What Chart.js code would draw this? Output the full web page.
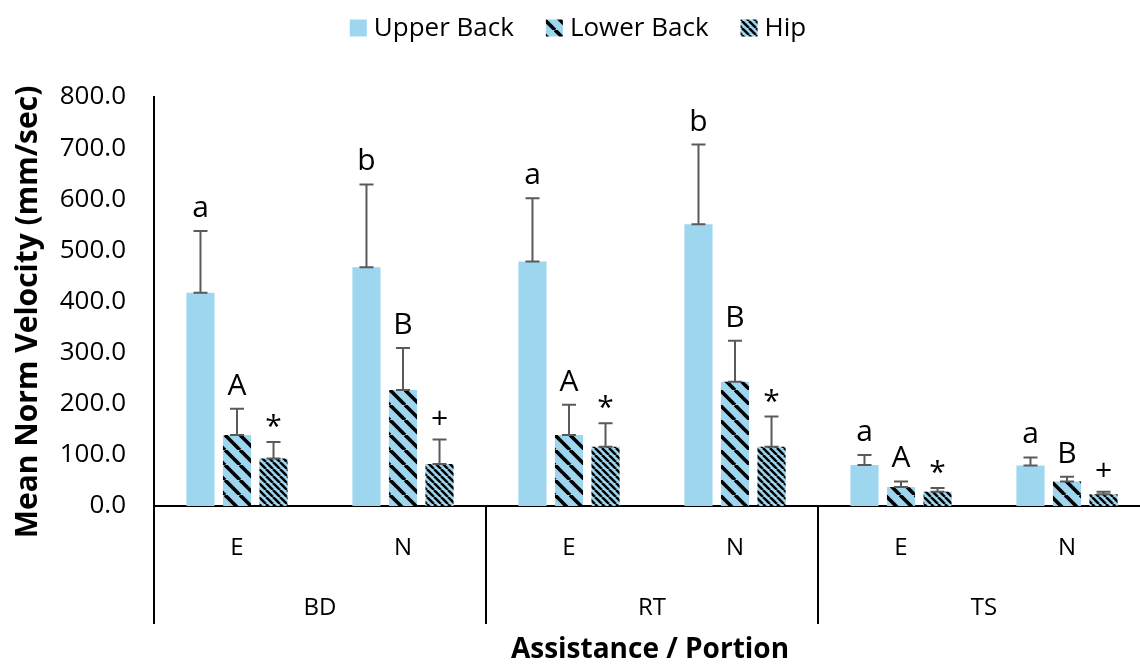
<!DOCTYPE html>
<html>
<head>
<meta charset="utf-8">
<script src="https://cdn.jsdelivr.net/npm/chart.js@4/dist/chart.umd.min.js"></script>
<style>
  html, body { margin: 0; padding: 0; background: #fff; overflow: hidden; }
  #wrap { width: 1140px; height: 666px; overflow: hidden; }
</style>
</head>
<body>
<div id="wrap"><canvas id="chart" width="1150" height="666"></canvas></div>
<script>
// Mean norm velocity by assistance device and portion of the movement
const groups = ['BD', 'RT', 'TS'];
const portions = ['E', 'N', 'E', 'N', 'E', 'N'];
const seriesNames = ['Upper Back', 'Lower Back', 'Hip'];

const upperBack = [417, 467, 478, 551, 80, 79];
const lowerBack = [139, 227, 139, 243, 37, 48];
const hip = [93, 82, 116, 116, 28, 23];

// standard deviations (drawn upward only)
const upperBackSD = [121, 162, 124, 156, 20, 16];
const lowerBackSD = [51, 82, 59, 80, 11, 9];
const hipSD = [32, 48, 46, 59, 7, 5];

// significance letters shown above each bar
const upperBackMarks = ['a', 'b', 'a', 'b', 'a', 'a'];
const lowerBackMarks = ['A', 'B', 'A', 'B', 'A', 'B'];
const hipMarks = ['*', '+', '*', '*', '*', '+'];

const yTicks = [0, 100, 200, 300, 400, 500, 600, 700, 800];

const BLUE = '#9dd6ee';
const FONT = "'Open Sans', sans-serif";

function stripePattern(period, lineWidth) {
  const c = document.createElement('canvas');
  c.width = period; c.height = period;
  const g = c.getContext('2d');
  g.fillStyle = BLUE;
  g.fillRect(0, 0, period, period);
  g.strokeStyle = '#000';
  g.lineWidth = lineWidth;
  for (const k of [-period, 0, period]) {
    g.beginPath();
    g.moveTo(k, 0);
    g.lineTo(k + period, period);
    g.stroke();
  }
  return g.createPattern(c, 'repeat');
}

const fills = [BLUE, stripePattern(15, 3.6), stripePattern(7, 2.5)];
const values = [upperBack, lowerBack, hip];
const sds = [upperBackSD, lowerBackSD, hipSD];
const marks = [upperBackMarks, lowerBackMarks, hipMarks];

const decorations = {
  id: 'decorations',
  afterDatasetsDraw(chart) {
    const ctx = chart.ctx;
    const y = chart.scales.y;
    ctx.save();
    chart.data.datasets.forEach((ds, i) => {
      const meta = chart.getDatasetMeta(i);
      meta.data.forEach((bar, j) => {
        const top = y.getPixelForValue(values[i][j] + sds[i][j]);
        const base = bar.y;
        ctx.strokeStyle = '#5a5a5a';
        ctx.lineWidth = 2;
        ctx.beginPath();
        ctx.moveTo(bar.x, base);
        ctx.lineTo(bar.x, top);
        ctx.moveTo(bar.x - 7, top);
        ctx.lineTo(bar.x + 7, top);
        ctx.moveTo(bar.x - 7, base);
        ctx.lineTo(bar.x + 7, base);
        ctx.stroke();

        const m = marks[i][j];
        ctx.fillStyle = '#000';
        ctx.font = `30px ${FONT}`;
        ctx.textAlign = 'center';
        ctx.textBaseline = 'alphabetic';
        const shift = (m === '*') ? 8 : (m === '+' ? 2 : 0);
        ctx.fillText(m, bar.x, top - 14 + shift);
      });
    });
    ctx.restore();
  },
  afterDraw(chart) {
    const ctx = chart.ctx;
    const x = chart.scales.x;
    const area = chart.chartArea;
    ctx.save();
    // group separators below the axis
    ctx.strokeStyle = '#000';
    ctx.lineWidth = 2;
    const per = portions.length / groups.length;
    for (let g = 0; g < groups.length; g++) {
      const px = Math.round(x.getPixelForValue(g * per - 0.5));
      ctx.beginPath();
      ctx.moveTo(px, area.bottom);
      ctx.lineTo(px, 624);
      ctx.stroke();
    }

    // axis titles
    ctx.fillStyle = '#000';
    ctx.font = `bold 28px ${FONT}`;
    ctx.textAlign = 'center';
    ctx.textBaseline = 'middle';
    ctx.fillText('Assistance / Portion', 650, 650);
    ctx.save();
    ctx.translate(28, 312);
    ctx.rotate(-Math.PI / 2);
    ctx.font = `bold 30px ${FONT}`;
    ctx.fillText('Mean Norm Velocity (mm/sec)', 0, 0);
    ctx.restore();

    // legend
    ctx.font = `26px ${FONT}`;
    ctx.textBaseline = 'middle';
    ctx.textAlign = 'left';
    const box = 17, gapIn = 7, gapOut = 32;
    const widths = seriesNames.map(n => box + gapIn + ctx.measureText(n).width);
    const total = widths.reduce((a, b) => a + b, 0) + gapOut * (seriesNames.length - 1);
    let lx = 578 - total / 2;
    const ly = 28;
    seriesNames.forEach((n, i) => {
      ctx.fillStyle = fills[i];
      ctx.fillRect(lx, ly - box / 2, box, box);
      ctx.fillStyle = '#000';
      ctx.fillText(n, lx + box + gapIn, ly + 1);
      lx += widths[i] + gapOut;
    });
    ctx.restore();
  }
};

new Chart(document.getElementById('chart'), {
  type: 'bar',
  data: {
    labels: portions,
    datasets: seriesNames.map((name, i) => ({
      label: name,
      data: values[i],
      backgroundColor: fills[i],
      borderWidth: 0,
      categoryPercentage: 0.66,
      barPercentage: 0.77,
      xAxisID: 'x',
      yAxisID: 'y'
    }))
  },
  options: {
    responsive: false,
    devicePixelRatio: 1,
    animation: false,
    layout: { padding: { top: 97, right: 0, left: 0, bottom: 0 } },
    plugins: { legend: { display: false }, tooltip: { enabled: false } },
    scales: {
      x: {
        type: 'category',
        position: 'bottom',
        offset: true,
        grid: { display: false },
        border: { display: true, color: '#000', width: 2 },
        ticks: { color: '#000', font: { family: FONT, size: 24 }, padding: 20 },
        afterFit(s) { s.height = 75; }
      },
      x2: {
        type: 'category',
        position: 'bottom',
        labels: groups,
        offset: true,
        grid: { display: false },
        border: { display: false },
        ticks: { color: '#000', font: { family: FONT, size: 24 }, padding: 5 },
        afterFit(s) { s.height = 85; }
      },
      y: {
        min: 0,
        max: 800,
        afterBuildTicks(s) { s.ticks = yTicks.map(v => ({ value: v })); },
        grid: { display: false, drawTicks: false },
        border: { display: true, color: '#000', width: 2 },
        ticks: {
          color: '#000',
          font: { family: FONT, size: 26 },
          padding: 28,
          callback: v => Number(v).toFixed(1)
        },
        afterFit(s) { s.width = 154; }
      }
    }
  },
  plugins: [decorations]
});
</script>
</body>
</html>
